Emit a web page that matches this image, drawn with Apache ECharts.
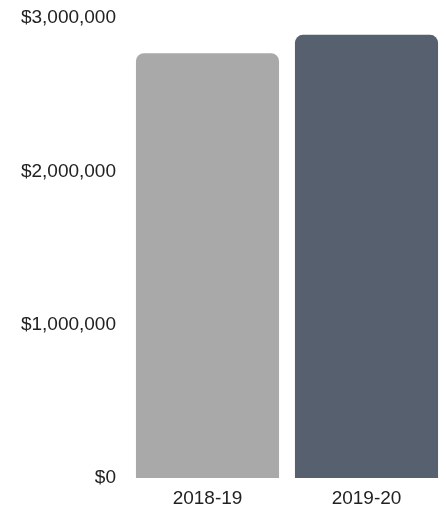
<!DOCTYPE html>
<html><head><meta charset="utf-8">
<script src="https://cdn.jsdelivr.net/npm/echarts@6/dist/echarts.min.js"></script>
<style>html,body{margin:0;padding:0;background:#fff}#c{width:446px;height:512px}</style>
</head><body><div id="c"></div>
<script>
const categories = ['2018-19', '2019-20'];
const values = [2770000, 2890000];
const barColors = ['#a8a9a8', '#56606e'];
const yTicks = [0, 1000000, 2000000, 3000000];

const chart = echarts.init(document.getElementById('c'));
chart.setOption({
  animation: false,
  grid: { left: 128, top: 18, width: 322, bottom: 34, containLabel: false },
  xAxis: {
    type: 'category', data: categories,
    axisLine: { show: false }, axisTick: { show: false },
    axisLabel: { color: '#222', fontSize: 19, fontFamily: 'Liberation Sans, Arial', margin: 11 }
  },
  yAxis: {
    type: 'value', min: 0, max: 3000000, interval: 1000000,
    splitLine: { show: false }, axisLine: { show: false }, axisTick: { show: false },
    axisLabel: { color: '#222', fontSize: 19, fontFamily: 'Liberation Sans, Arial', margin: 12,
      formatter: v => '$' + v.toLocaleString('en-US') }
  },
  series: [{
    type: 'bar', barCategoryGap: '10%',
    data: values.map((v, i) => ({ value: v, itemStyle: { color: barColors[i], borderRadius: [8, 8, 0, 0] } }))
  }]
});
</script></body></html>
